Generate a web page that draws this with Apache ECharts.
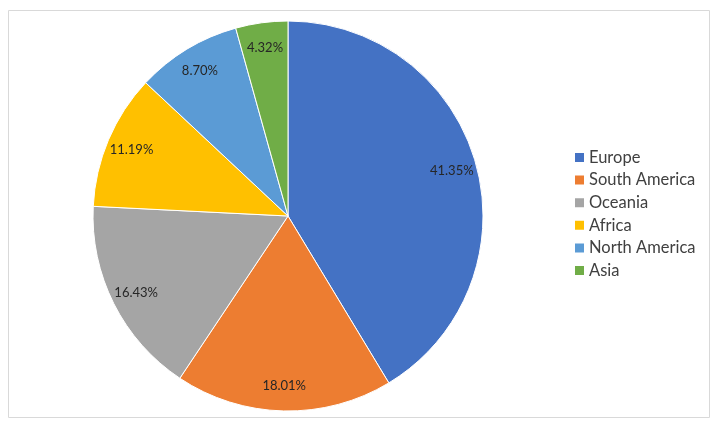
<!DOCTYPE html>
<html>
<head>
<meta charset="utf-8">
<script src="https://cdn.jsdelivr.net/npm/echarts@6/dist/echarts.min.js"></script>
<style>html,body{margin:0;padding:0;background:#fff}#c{width:720px;height:429px}</style>
</head>
<body>
<div id="c"></div>
<script>
const categories = ['Europe', 'South America', 'Oceania', 'Africa', 'North America', 'Asia'];
const values = [41.35, 18.01, 16.43, 11.19, 8.70, 4.32];
const colors = ['#4472C4', '#ED7D31', '#A5A5A5', '#FFC000', '#5B9BD5', '#70AD47'];

const chart = echarts.init(document.getElementById('c'), null, {renderer: 'canvas'});
const baseData = categories.map((n, i) => ({name: n, value: values[i], itemStyle: {color: colors[i]}}));
const labelFmt = p => p.value.toFixed(2) + '%';
const labelStyle = {color: '#262626', fontFamily: 'Lato', fontSize: 13};

function overlay(radius, showIdx) {
  return {
    type: 'pie', center: [288, 216], radius: radius, startAngle: 90, clockwise: true,
    silent: true, legendHoverLink: false, animation: false, z: 5,
    itemStyle: {color: 'rgba(0,0,0,0)', borderWidth: 0},
    labelLine: {show: false},
    data: categories.map((n, i) => ({
      name: n, value: values[i],
      itemStyle: {color: 'rgba(0,0,0,0)'},
      label: Object.assign({show: showIdx.includes(i), position: 'inside', formatter: labelFmt}, labelStyle)
    }))
  };
}

chart.setOption({
  animation: false,
  graphic: [{type: 'rect', shape: {x: 8.5, y: 10.5, width: 701, height: 407}, style: {fill: 'none', stroke: '#d9d9d9', lineWidth: 1}}],
  legend: {
    orient: 'vertical', left: 568, top: 144,
    padding: 5,
    itemWidth: 11, itemHeight: 11, itemGap: 5.6,
    icon: 'rect',
    textStyle: {fontFamily: 'Lato', fontSize: 16.5, color: '#404040', lineHeight: 16, padding: [0, 0, 0, -1]},
    data: categories
  },
  series: [
    {
      type: 'pie', center: [288, 216], radius: 195, startAngle: 90, clockwise: true,
      animation: false,
      itemStyle: {borderColor: '#fff', borderWidth: 1},
      label: {show: false}, labelLine: {show: false},
      emphasis: {disabled: true},
      data: baseData
    },
    overlay([139, 195], [0, 1, 2, 3, 4, 5])
  ]
});
</script>
</body>
</html>
